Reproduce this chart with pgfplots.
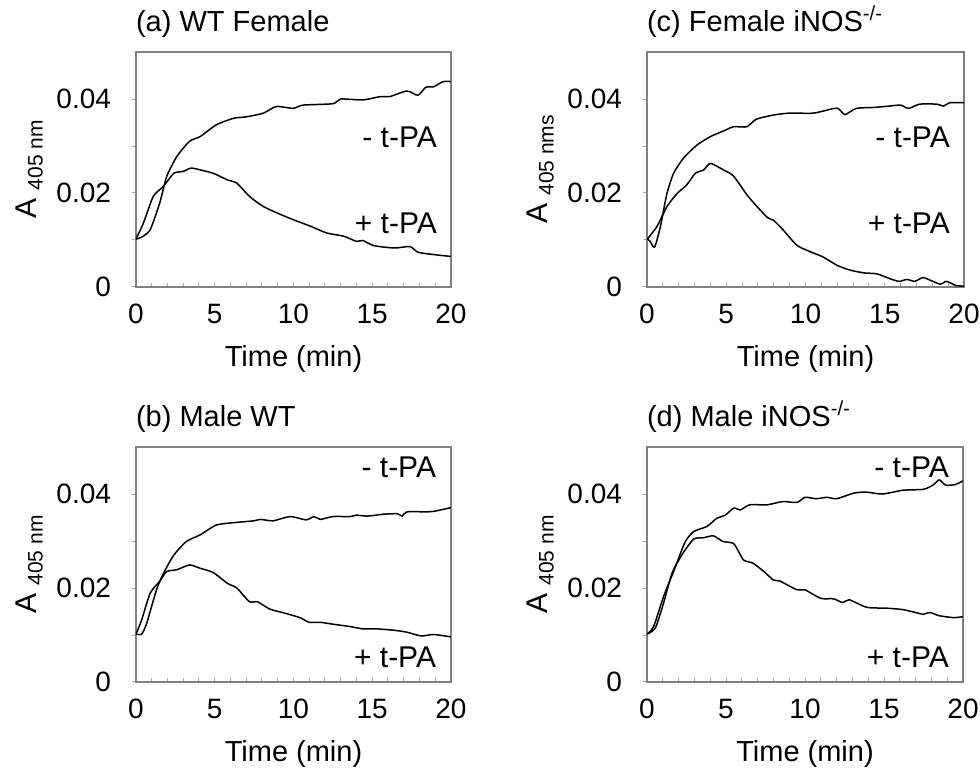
\documentclass[border=0pt]{standalone}
\usepackage{fontspec}
\setmainfont{Liberation Sans}
\usepackage{pgfplots}
\pgfplotsset{compat=1.18}

\pgfplotsset{
  panel/.style={
    scale only axis,
    width=157.5pt, height=117.5pt,
    anchor=south west,
    xmin=0, xmax=20, ymin=0, ymax=0.05,
    xtick={0,5,10,15,20},
    xticklabels={0,5,10,15,20},
    minor x tick num=4,
    ytick={0,0.02,0.04},
    yticklabels={0,0.02,0.04},
    scaled y ticks=false,
    minor ytick={0.01,0.03},
    xtick pos=bottom, ytick pos=left,
    xtick align=inside, ytick align=outside,
    major tick length=2pt, minor tick length=2pt,
    axis line style={gray, line width=0.6pt},
    every tick/.style={gray!70, line width=0.5pt},
    /pgf/number format/assume math mode=true,
    tick label style={font=\fontsize{14}{16}\selectfont},
    yticklabel style={xshift=-7pt},
    xticklabel style={yshift=-5pt},
    label style={font=\fontsize{14.5}{17}\selectfont},
    xlabel={Time (min)},
    xlabel style={yshift=-4pt},
    ylabel style={yshift=0pt},
    every axis title shift=0pt,
    title style={font=\fontsize{14.5}{17}\selectfont, anchor=base west, at={(0,1)}, xshift=-3.5pt, yshift=10.5pt},
  },
  curve/.style={black, line width=0.75pt, no markers, smooth, tension=0.4},
}
\newcommand{\tlab}[1]{\fontsize{15}{17}\selectfont #1}
\newcommand{\aylab}[1]{\fontsize{15}{17}\selectfont A \raisebox{-3pt}{\fontsize{10.5}{11}\selectfont #1}}

\begin{document}
\begin{tikzpicture}
\useasboundingbox (0,0) rectangle (490pt,388pt);

% (a)
\begin{axis}[panel, at={(68pt,244.5pt)}, title={(a) WT Female}, ylabel={\aylab{405 nm}}]
\addplot[curve] coordinates {(0,0.0102) (0.36,0.0106) (0.9,0.0122) (1.5,0.0178) (1.95,0.0235) (2.6,0.0278) (3.4,0.031) (4.07,0.032) (5.1,0.0345) (6.2,0.0359) (7,0.0362) (8.1,0.037) (8.9,0.0384) (10,0.038) (10.6,0.0387) (12.5,0.039) (13,0.04) (14.4,0.0398) (15.5,0.0405) (16.1,0.0405) (17.2,0.0417) (17.9,0.0408) (18.4,0.0425) (18.9,0.0426) (19.5,0.0437) (20,0.0437)};
\addplot[curve] coordinates {(0,0.0102) (0.47,0.0136) (1.1,0.0193) (1.74,0.0214) (2.4,0.0242) (3.0,0.0246) (3.5,0.0253) (4.1,0.0249) (4.9,0.0242) (5.8,0.0228) (6.4,0.0221) (7.2,0.0193) (8.1,0.0171) (9.2,0.0154) (10,0.0143) (11.1,0.0129) (12.1,0.0115) (13.2,0.0108) (14.0,0.0097) (14.4,0.0099) (15.1,0.0088) (16.4,0.0083) (17.4,0.0086) (17.9,0.0074) (18.9,0.0069) (20,0.0065)};
\node[anchor=east] at (axis cs:19.55,0.0319) {\tlab{- t-PA}};
\node[anchor=east] at (axis cs:19.55,0.0136) {\tlab{+ t-PA}};
\end{axis}

% (c)
\begin{axis}[panel, width=158.5pt, at={(323.5pt,244.5pt)}, title={(c) Female iNOS\textsuperscript{-/-}}, ylabel={\aylab{405 nms}}]
\addplot[curve] coordinates {(0,0.0103) (0.2,0.0097) (0.48,0.0085) (0.84,0.0128) (1.26,0.0199) (1.68,0.0242) (2.3,0.0274) (3.15,0.0302) (4.0,0.032) (4.83,0.0332) (5.46,0.0341) (6.3,0.0341) (6.9,0.0357) (8.0,0.0366) (9.0,0.037) (10.5,0.037) (11.8,0.038) (12.1,0.0379) (12.5,0.0367) (13.2,0.038) (14.3,0.0382) (15.3,0.0385) (16.0,0.0387) (16.5,0.038) (17.2,0.0389) (18.3,0.0389) (18.7,0.0385) (19.1,0.0392) (20,0.0392)};
\addplot[curve] coordinates {(0,0.0101) (0.63,0.0129) (1.26,0.0171) (1.9,0.0199) (2.5,0.0217) (3.05,0.0242) (3.57,0.0249) (4.0,0.0263) (4.83,0.0249) (5.46,0.0236) (6.4,0.0192) (7.56,0.0149) (7.98,0.0142) (8.6,0.0121) (9.45,0.0089) (10.3,0.0075) (11.1,0.0064) (12.0,0.0046) (12.8,0.0036) (13.7,0.003) (14.5,0.0028) (15.3,0.0018) (15.9,0.0012) (16.4,0.0016) (16.9,0.0012) (17.4,0.002) (17.9,0.0014) (18.5,0.0006) (18.9,0.0012) (19.5,0.0003) (20,0.0002)};
\node[anchor=east] at (axis cs:19.55,0.0319) {\tlab{- t-PA}};
\node[anchor=east] at (axis cs:19.55,0.0136) {\tlab{+ t-PA}};
\end{axis}

% (b)
\begin{axis}[panel, at={(68pt,47pt)}, title={(b) Male WT}, ylabel={\aylab{405 nm}}]
\addplot[curve] coordinates {(0,0.0102) (0.36,0.0102) (0.68,0.0125) (1.3,0.0196) (1.74,0.0231) (2.4,0.027) (3.2,0.0299) (4.07,0.0313) (5.1,0.0334) (6.2,0.0339) (7.5,0.0343) (7.9,0.0346) (8.7,0.0343) (9.8,0.0352) (10.8,0.0345) (11.3,0.0352) (11.7,0.0346) (12.5,0.0352) (13.6,0.0352) (14.0,0.0355) (14.7,0.0353) (15.7,0.0357) (16.6,0.0358) (16.9,0.0353) (17.2,0.0362) (18.5,0.0362) (18.9,0.0363) (20,0.0371)};
\addplot[curve] coordinates {(0,0.0102) (0.36,0.0132) (0.9,0.0189) (1.5,0.0214) (1.95,0.0235) (2.6,0.0239) (3.4,0.0249) (4.07,0.0242) (4.9,0.0233) (5.8,0.021) (6.4,0.02) (7.2,0.0171) (7.7,0.0171) (8.5,0.0155) (9.4,0.0147) (10.4,0.0137) (11.0,0.0127) (11.7,0.0127) (12.5,0.0123) (13.6,0.0118) (14.4,0.0113) (15.3,0.0113) (16.4,0.011) (17.2,0.0106) (18.1,0.0098) (18.9,0.0101) (20,0.0096)};
\node[anchor=east] at (axis cs:19.5,0.0457) {\tlab{- t-PA}};
\node[anchor=east] at (axis cs:19.5,0.0053) {\tlab{+ t-PA}};
\end{axis}

% (d)
\begin{axis}[panel, width=158pt, at={(323.5pt,47pt)}, title={(d) Male iNOS\textsuperscript{-/-}}, ylabel={\aylab{405 nm}}]
\addplot[curve] coordinates {(0,0.0102) (0.42,0.0118) (1.05,0.0182) (1.68,0.0235) (2.4,0.0297) (2.95,0.032) (3.8,0.0331) (4.4,0.0348) (4.95,0.0355) (5.5,0.037) (5.9,0.0366) (6.5,0.0377) (7.6,0.0377) (8.6,0.0384) (9.5,0.0382) (10.0,0.0393) (10.7,0.039) (11.4,0.0393) (12.0,0.039) (13.1,0.0402) (13.9,0.0404) (14.9,0.04) (16.2,0.0408) (17.5,0.041) (18.1,0.0419) (18.5,0.043) (18.9,0.0419) (19.5,0.042) (20,0.0428)};
\addplot[curve] coordinates {(0,0.0102) (0.53,0.0115) (1.05,0.0168) (1.58,0.0231) (2.2,0.027) (2.95,0.0304) (3.6,0.0307) (4.2,0.0311) (4.8,0.0299) (5.5,0.0294) (6.1,0.026) (6.7,0.0253) (7.4,0.0235) (8.0,0.0217) (8.4,0.0215) (9.5,0.0196) (10.0,0.0196) (11.0,0.0178) (11.8,0.0177) (12.4,0.0169) (12.8,0.0175) (13.9,0.0159) (15.2,0.0157) (16.2,0.0154) (17.1,0.0147) (17.5,0.0144) (17.9,0.0148) (18.5,0.0141) (19.4,0.0137) (20,0.0139)};
\node[anchor=east] at (axis cs:19.55,0.0457) {\tlab{- t-PA}};
\node[anchor=east] at (axis cs:19.55,0.0053) {\tlab{+ t-PA}};
\end{axis}
\end{tikzpicture}
\end{document}
